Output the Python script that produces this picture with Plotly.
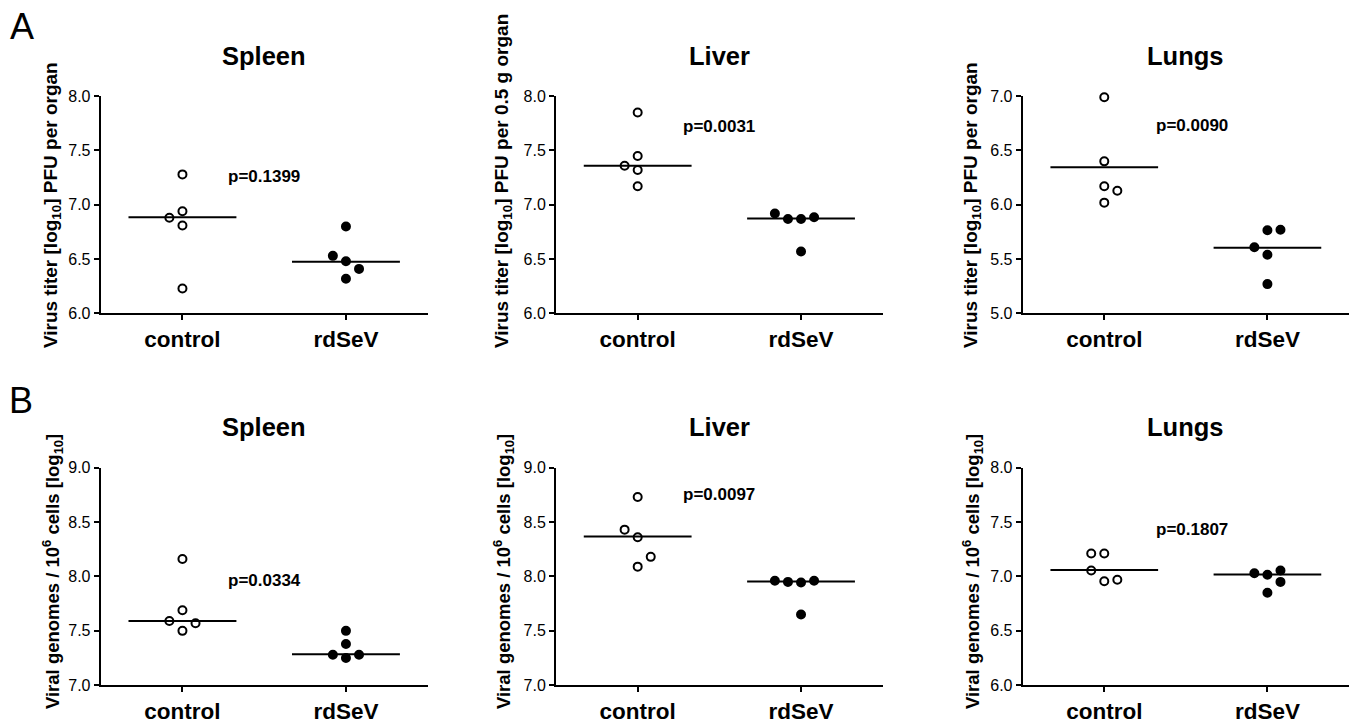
import plotly.graph_objects as go

W, H = 1354, 724

# ---------------- data ----------------
groups = ["control", "rdSeV"]
organs = ["Spleen", "Liver", "Lungs"]

# Row A: virus titer [log10] PFU
a_spleen_control = [7.28, 6.94, 6.88, 6.81, 6.23]
a_spleen_rdsev = [6.80, 6.53, 6.48, 6.41, 6.32]
a_liver_control = [7.85, 7.45, 7.36, 7.32, 7.17]
a_liver_rdsev = [6.92, 6.87, 6.87, 6.885, 6.57]
a_lungs_control = [6.99, 6.40, 6.17, 6.13, 6.02]
a_lungs_rdsev = [5.61, 5.765, 5.77, 5.54, 5.27]

a_means = [[6.885, 6.475], [7.36, 6.873], [6.345, 5.605]]
a_pvalues = ["p=0.1399", "p=0.0031", "p=0.0090"]
a_p_y = [7.26, 7.72, 6.73]

# Row B: viral genomes / 10^6 cells [log10]
b_spleen_control = [8.16, 7.69, 7.59, 7.57, 7.50]
b_spleen_rdsev = [7.50, 7.38, 7.28, 7.28, 7.25]
b_liver_control = [8.73, 8.43, 8.36, 8.18, 8.09]
b_liver_rdsev = [7.96, 7.95, 7.945, 7.96, 7.65]
b_lungs_control = [7.21, 7.21, 7.055, 6.97, 6.955]
b_lungs_rdsev = [7.03, 7.015, 7.055, 6.95, 6.85]

b_means = [[7.59, 7.284], [8.367, 7.954], [7.058, 7.018]]
b_pvalues = ["p=0.0334", "p=0.0097", "p=0.1807"]
b_p_y = [7.96, 8.75, 7.43]

# y-axis ranges
a_ranges = [[6.0, 8.0], [6.0, 8.0], [5.0, 7.0]]
b_ranges = [[7.0, 9.0], [7.0, 9.0], [6.0, 8.0]]

a_ytitles = ["Virus titer [log<sub>10</sub>] PFU per organ",
             "Virus titer [log<sub>10</sub>] PFU per 0.5 g organ",
             "Virus titer [log<sub>10</sub>] PFU per organ"]
b_ytitles = ["Viral genomes / 10<sup>6</sup> cells [log<sub>10</sub>]"] * 3

# ---------------- layout helpers (positions / dodge, not data) ----------------
a_dodge = [([0, 0, -1, 0, 0], [0, -1, 0, 1, 0]),
           ([0, 0, -1, 0, 0], [-2, -1, 0, 1, 0]),
           ([0, 0, 0, 1, 0], [-1, 0, 1, 0, 0])]
b_dodge = [([0, 0, -1, 1, 0], [0, 0, -1, 1, 0]),
           ([0, -1, 0, 1, 0], [-2, -1, 0, 1, 0]),
           ([-1, 0, -1, 1, 0], [-1, 0, 1, 1, 0])]
DODGE = 0.08
HALF = 0.33
p_x = [0.5, 0.5, 0.54]


def vy(py):
    # calibration of target pixel rows to the rendered page
    return (py - 7.4) / 0.978


col_px = [(100.7, 427.7), (556.0, 882.7), (1022.7, 1349.0)]
row_px = [(vy(95.7), vy(313.3)), (vy(467.7), vy(685.7))]
title_y_px = [vy(55), vy(427)]
ytitle_x_px = [52, 503, 972]
ytitle_bottom_px = [vy(350), vy(712)]
ytitle_size = [19, 18.5]
panel_letters = [("A", 22, vy(26)), ("B", 21, vy(400))]

FONT = "Liberation Sans, Arial, Helvetica, sans-serif"

fig = go.Figure()

rows = [
    ([(a_spleen_control, a_spleen_rdsev), (a_liver_control, a_liver_rdsev),
      (a_lungs_control, a_lungs_rdsev)], a_means, a_pvalues, a_p_y, a_ranges, a_ytitles, a_dodge),
    ([(b_spleen_control, b_spleen_rdsev), (b_liver_control, b_liver_rdsev),
      (b_lungs_control, b_lungs_rdsev)], b_means, b_pvalues, b_p_y, b_ranges, b_ytitles, b_dodge),
]

annotations = []
idx = 0
for r, (data, means, pvals, py, ranges, ytitles, dodge) in enumerate(rows):
    for c in range(3):
        idx += 1
        xa = "x" if idx == 1 else f"x{idx}"
        ya = "y" if idx == 1 else f"y{idx}"
        xkey = "xaxis" if idx == 1 else f"xaxis{idx}"
        ykey = "yaxis" if idx == 1 else f"yaxis{idx}"
        ctrl, rd = data[c]
        dc, dr = dodge[c]
        # control: open circles
        fig.add_trace(go.Scatter(
            x=[0 + d * DODGE for d in dc], y=ctrl, mode="markers",
            marker=dict(size=8, color="white", line=dict(color="black", width=2)),
            xaxis=xa, yaxis=ya, showlegend=False, cliponaxis=False))
        # rdSeV: filled circles
        fig.add_trace(go.Scatter(
            x=[1 + d * DODGE for d in dr], y=rd, mode="markers",
            marker=dict(size=8, color="black", line=dict(color="black", width=2)),
            xaxis=xa, yaxis=ya, showlegend=False, cliponaxis=False))
        # mean lines
        for g in range(2):
            fig.add_trace(go.Scatter(
                x=[g - HALF, g + HALF], y=[means[c][g]] * 2, mode="lines",
                line=dict(color="black", width=2),
                xaxis=xa, yaxis=ya, showlegend=False, hoverinfo="skip"))
        x0, x1 = col_px[c]
        y0, y1 = row_px[r]
        fig.layout[xkey] = dict(
            domain=[x0 / W, x1 / W], anchor=ya, range=[-0.5, 1.5],
            tickvals=[0, 1], ticktext=[f"<b>{g}</b>" for g in groups],
            tickfont=dict(family=FONT, size=22.5, color="black"),
            showline=True, linecolor="black", linewidth=2,
            ticks="outside", ticklen=5, tickwidth=2, tickcolor="black",
            showgrid=False, zeroline=False, fixedrange=True)
        fig.layout[ykey] = dict(
            domain=[1 - y1 / H, 1 - y0 / H], anchor=xa, range=ranges[c],
            dtick=0.5, tick0=0, tickformat=".1f",
            tickfont=dict(family=FONT, size=16, color="black"),
            showline=True, linecolor="black", linewidth=2,
            ticks="outside", ticklen=5, tickwidth=2, tickcolor="black",
            showgrid=False, zeroline=False, fixedrange=True)
        # p-value text
        annotations.append(dict(
            x=p_x[c], y=py[c], xref=xa, yref=ya, text=f"<b>{pvals[c]}</b>", showarrow=False,
            font=dict(family=FONT, size=17, color="black")))
        # panel title
        annotations.append(dict(
            x=(x0 + x1) / 2 / W, y=1 - title_y_px[r] / H, xref="paper", yref="paper",
            text=f"<b>{organs[c]}</b>", showarrow=False, xanchor="center", yanchor="middle",
            font=dict(family=FONT, size=25.5, color="black")))
        # y-axis title
        annotations.append(dict(
            x=ytitle_x_px[c] / W, y=1 - ytitle_bottom_px[r] / H, xref="paper", yref="paper",
            text=f"<b>{ytitles[c]}</b>", showarrow=False, textangle=-90,
            xanchor="center", yanchor="bottom",
            font=dict(family=FONT, size=ytitle_size[r], color="black")))

for letter, lx, ly in panel_letters:
    annotations.append(dict(
        x=lx / W, y=1 - ly / H, xref="paper", yref="paper", text=letter,
        showarrow=False, xanchor="center", yanchor="middle",
        font=dict(family=FONT, size=36, color="black")))

fig.update_layout(
    width=W, height=H, autosize=False,
    margin=dict(l=0, r=0, t=0, b=0),
    paper_bgcolor="white", plot_bgcolor="white",
    annotations=annotations,
    font=dict(family=FONT, color="black"),
)

post = (
    "document.documentElement.style.margin='0';"
    "document.documentElement.style.padding='0';"
    "document.documentElement.style.overflow='hidden';"
    "document.body.style.margin='0';"
    "document.body.style.padding='0';"
    "document.body.style.overflow='hidden';"
    "var gd=document.getElementById('{plot_id}');"
    "gd.style.position='fixed';gd.style.top='0px';gd.style.left='0px';"
)

fig.write_html("out.html", config={"displayModeBar": False}, post_script=post)
